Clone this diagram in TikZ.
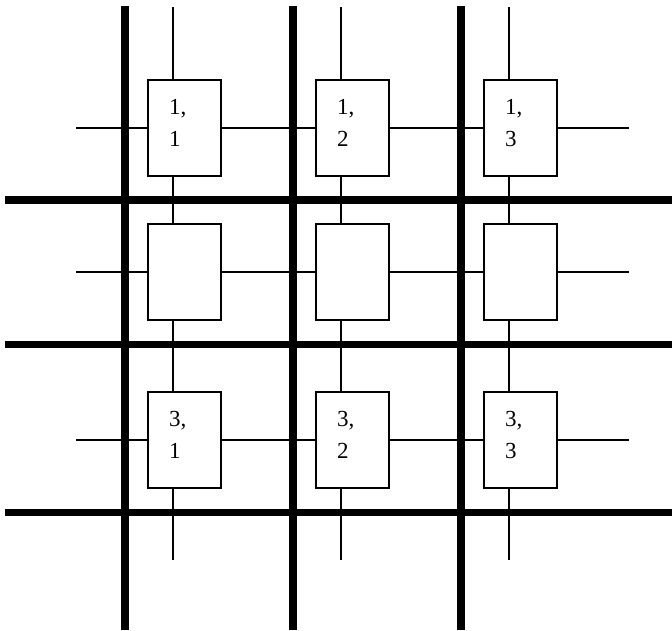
\documentclass[tikz,border=0pt]{standalone}
\usepackage{fontspec}
\setmainfont{Liberation Serif}

\tikzset{
  cell/.style={draw,fill=white,line width=1.5pt,minimum width=73pt,minimum height=96pt,
    inner xsep=21pt,inner ysep=0pt,text width=31pt,align=left,text depth=42.5pt,
    font=\fontsize{23}{32}\selectfont},
  wire/.style={line width=1.3pt},
  bus/.style={line width=7.5pt}
}

\begin{document}
\begin{tikzpicture}[x=1pt,y=-1pt]

\useasboundingbox (0,0) rectangle (672,630);

\coordinate (t1) at (173,7);
\coordinate (t2) at (341,7);
\coordinate (t3) at (509,7);
\coordinate (d1) at (173,560);
\coordinate (d2) at (341,560);
\coordinate (d3) at (509,560);
\coordinate (l1) at (76,128);
\coordinate (l2) at (76,272);
\coordinate (l3) at (76,440);
\coordinate (r1) at (629,128);
\coordinate (r2) at (629,272);
\coordinate (r3) at (629,440);

\node[cell] (b11) at (184.5,128) {1,\\1};
\node[cell] (b12) at (352.5,128) {1,\\2};
\node[cell] (b13) at (520.5,128) {1,\\3};
\node[cell] (b21) at (184.5,272) {};
\node[cell] (b22) at (352.5,272) {};
\node[cell] (b23) at (520.5,272) {};
\node[cell] (b31) at (184.5,440) {3,\\1};
\node[cell] (b32) at (352.5,440) {3,\\2};
\node[cell] (b33) at (520.5,440) {3,\\3};

\draw[wire] (l1) -- (b11.west) (b11.east) -- (b12.west) (b12.east) -- (b13.west) (b13.east) -- (r1);
\draw[wire] (l2) -- (b21.west) (b21.east) -- (b22.west) (b22.east) -- (b23.west) (b23.east) -- (r2);
\draw[wire] (l3) -- (b31.west) (b31.east) -- (b32.west) (b32.east) -- (b33.west) (b33.east) -- (r3);

\draw[wire] (t1) -- (b11.north -| t1) (b11.south -| t1) -- (b21.north -| t1) (b21.south -| t1) -- (b31.north -| t1) (b31.south -| t1) -- (d1);
\draw[wire] (t2) -- (b12.north -| t2) (b12.south -| t2) -- (b22.north -| t2) (b22.south -| t2) -- (b32.north -| t2) (b32.south -| t2) -- (d2);
\draw[wire] (t3) -- (b13.north -| t3) (b13.south -| t3) -- (b23.north -| t3) (b23.south -| t3) -- (b33.north -| t3) (b33.south -| t3) -- (d3);

\draw[bus] (125,5.5) -- (125,629.5);
\draw[bus] (293,5.5) -- (293,629.5);
\draw[bus] (461,5.5) -- (461,629.5);

\draw[bus] (5,200) -- (672,200);
\draw[bus] (5,344.5) -- (672,344.5);
\draw[bus] (5,512.5) -- (672,512.5);

\end{tikzpicture}
\end{document}
